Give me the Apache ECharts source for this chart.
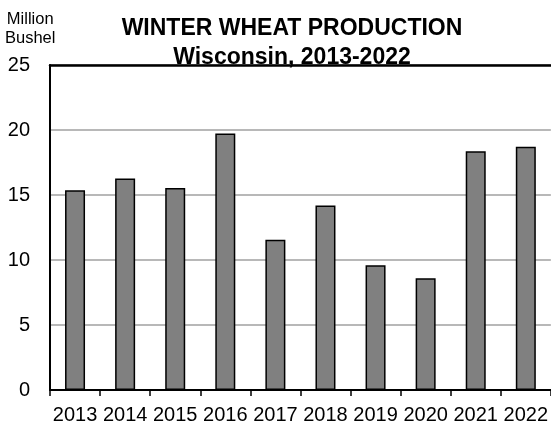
<!DOCTYPE html>
<html>
<head>
<meta charset="utf-8">
<script src="https://cdn.jsdelivr.net/npm/echarts@6/dist/echarts.min.js"></script>
<style>
html,body{margin:0;padding:0;background:#fff;}
#c{width:551px;height:428px;}
</style>
</head>
<body>
<div id="c"></div>
<script>
const years = ['2013','2014','2015','2016','2017','2018','2019','2020','2021','2022'];
const production = [15.36, 16.26, 15.54, 19.74, 11.56, 14.2, 9.6, 8.6, 18.36, 18.72];
const yTicks = [0, 5, 10, 15, 20, 25];
const titleLines = ['WINTER WHEAT PRODUCTION', 'Wisconsin, 2013-2022'];
const unitLines = ['Million', 'Bushel'];

const chart = echarts.init(document.getElementById('c'), null, {renderer: 'canvas'});
const FONT = 'Liberation Sans, Arial, sans-serif';
chart.setOption({
  animation: false,
  backgroundColor: '#fff',
  title: {
    text: titleLines.join('\n'),
    left: 287,
    top: 9,
    textAlign: 'center',
    textStyle: {fontFamily: FONT, fontSize: 23, fontWeight: 'bold', lineHeight: 29, color: '#000'}
  },
  graphic: [{
    type: 'text',
    left: 5,
    top: 10,
    style: {text: unitLines.join('\n'), font: '16.5px ' + FONT, lineHeight: 19, fill: '#000', textAlign: 'center', x: 23}
  }],
  grid: {left: 50, top: 65, width: 502, height: 325, containLabel: false},
  xAxis: [{
    type: 'category',
    data: years,
    position: 'bottom',
    axisLine: {lineStyle: {color: '#000', width: 2}},
    axisTick: {show: true, length: 6, lineStyle: {color: '#000', width: 1.5}, alignWithLabel: false},
    axisLabel: {fontFamily: FONT, fontSize: 20, color: '#000', margin: 15, interval: 0},
    splitLine: {show: false}
  }, {
    type: 'category',
    data: years,
    position: 'top',
    axisLine: {show: true, lineStyle: {color: '#000', width: 2.5}},
    axisTick: {show: false},
    axisLabel: {show: false}
  }],
  yAxis: {
    type: 'value',
    min: yTicks[0],
    max: yTicks[yTicks.length - 1],
    interval: 5,
    axisLine: {show: true, lineStyle: {color: '#000', width: 2}},
    axisTick: {show: false},
    axisLabel: {fontFamily: FONT, fontSize: 20, color: '#000', margin: 20},
    splitLine: {show: true, lineStyle: {color: '#a0a0a0', width: 1.5}}
  },
  series: [{
    type: 'bar',
    data: production,
    barWidth: 20,
    itemStyle: {color: '#808080', borderColor: '#000', borderWidth: 1.5}
  }]
});
</script>
</body>
</html>
